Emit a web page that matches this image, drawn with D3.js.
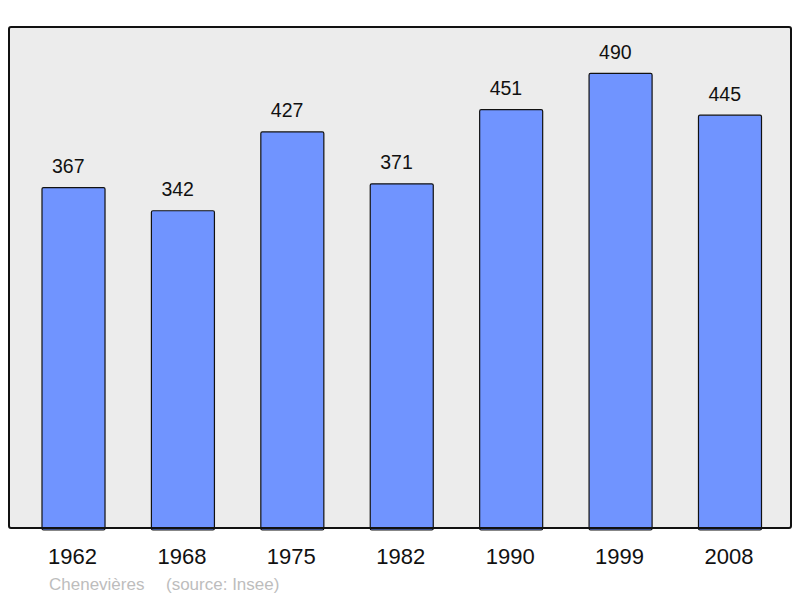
<!DOCTYPE html>
<html>
<head>
<meta charset="utf-8">
<script src="https://cdn.jsdelivr.net/npm/d3@7"></script>
<style>
  body { margin: 0; background: #fff; }
  text { font-family: "Liberation Sans", Arial, sans-serif; }
</style>
</head>
<body>
<div id="chart"></div>
<script>
// Population data
var years = ["1962", "1968", "1975", "1982", "1990", "1999", "2008"];
var population = [367, 342, 427, 371, 451, 490, 445];
var commune = "Chenevières";
var source = "(source: Insee)";

var W = 800, H = 598;
var panel = { x: 9, y: 27, w: 782, h: 501 };

var svg = d3.select("#chart").append("svg")
    .attr("width", W)
    .attr("height", H);

var x = d3.scaleBand()
    .domain(years)
    .range([18.8, 784.7])
    .paddingInner(0.424)
    .paddingOuter(0.212);

var y = d3.scaleLinear()
    .domain([0, d3.max(population) * 1.1])
    .range([panel.y + panel.h, panel.y + 1]);

// Background panel
svg.append("rect")
    .attr("x", panel.x)
    .attr("y", panel.y)
    .attr("width", panel.w)
    .attr("height", panel.h)
    .attr("rx", 2)
    .style("fill", "#ececec")
    .style("stroke", "none");

var data = years.map(function(d, i) { return { year: d, value: population[i] }; });

// Bars
svg.selectAll("rect.bar").data(data).enter().append("rect")
    .attr("class", "bar")
    .attr("x", function(d) { return x(d.year); })
    .attr("y", function(d) { return y(d.value); })
    .attr("width", x.bandwidth())
    .attr("height", function(d) { return y(0) - y(d.value) + 2; })
    .attr("rx", 1.5)
    .style("fill", "#7094ff")
    .style("stroke", "#111")
    .style("stroke-width", 1.2);

// Panel border on top of the bars
svg.append("rect")
    .attr("x", panel.x)
    .attr("y", panel.y)
    .attr("width", panel.w)
    .attr("height", panel.h)
    .attr("rx", 2)
    .style("fill", "none")
    .style("stroke", "#111")
    .style("stroke-width", 2);

// Value labels (start-aligned a little inside the bar's left edge)
svg.selectAll("text.val").data(data).enter().append("text")
    .attr("class", "val")
    .attr("x", function(d) { return x(d.year) + 10; })
    .attr("y", function(d) { return y(d.value) - 14.5; })
    .style("font-size", "19.5px")
    .style("fill", "#111")
    .text(function(d) { return d.value; });

// Year labels
svg.selectAll("text.year").data(data).enter().append("text")
    .attr("class", "year")
    .attr("x", function(d) { return x(d.year) + x.bandwidth() / 2 - 1; })
    .attr("y", 564)
    .attr("text-anchor", "middle")
    .style("font-size", "22px")
    .style("fill", "#111")
    .text(function(d) { return d.year; });

// Caption
svg.append("text")
    .attr("x", 49)
    .attr("y", 590)
    .style("font-size", "17px")
    .style("fill", "#bdbdbd")
    .text(commune);

svg.append("text")
    .attr("x", 166)
    .attr("y", 590)
    .style("font-size", "17px")
    .style("fill", "#bdbdbd")
    .text(source);
</script>
</body>
</html>
